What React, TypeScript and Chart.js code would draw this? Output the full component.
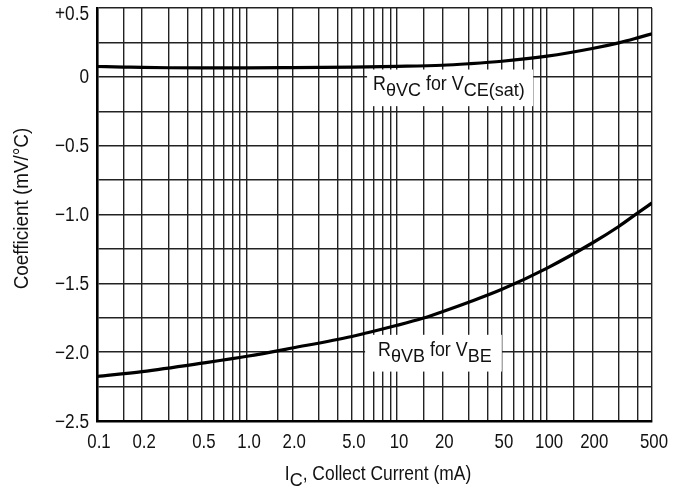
import React, { useEffect, useRef } from 'react';
import { Chart, registerables } from 'chart.js';

Chart.register(...registerables);

// ---- data ----
const vceCurrent = [0.1, 0.15, 0.2, 0.3, 0.5, 0.7, 1, 2, 5, 10, 20, 30, 50, 100, 200, 300, 400, 500];
const vceSatCoeff = [0.075, 0.071, 0.068, 0.066, 0.065, 0.065, 0.065, 0.067, 0.071, 0.076, 0.084, 0.095, 0.113, 0.15, 0.206, 0.247, 0.283, 0.313];

const vbeCurrent = [0.1, 0.2, 0.5, 1, 2, 5, 10, 15, 20, 30, 50, 100, 200, 300, 400, 500];
const vbeCoeff = [-2.177, -2.141, -2.08, -2.03, -1.97, -1.886, -1.805, -1.752, -1.706, -1.637, -1.543, -1.389, -1.207, -1.087, -0.99, -0.916];

const xGridValues = [0.1, 0.15, 0.2, 0.3, 0.4, 0.5, 0.6, 0.7, 0.8, 0.9, 1, 1.6, 2, 3, 4, 5, 6, 7, 8, 9, 10, 15, 20, 30, 40, 50, 60, 70, 80, 90, 100, 150, 200, 300, 400, 500];
const xLabelValues = [0.1, 0.2, 0.5, 1, 2, 5, 10, 20, 50, 100, 200, 500];
const xLabelTexts = ['0.1', '0.2', '0.5', '1.0', '2.0', '5.0', '10', '20', '50', '100', '200', '500'];

const yLabelValues = [0.5, 0, -0.5, -1, -1.5, -2, -2.5];
const yLabelTexts = ['+0.5', '0', '\u22120.5', '\u22121.0', '\u22121.5', '\u22122.0', '\u22122.5'];

const yTitle = 'Coefficient (mV/\u00B0C)';

const FONT = "'Liberation Sans', Arial, sans-serif";
const INK = '#111';
const GRID = '#222';

type Part = [string, boolean]; // [text, isSubscript]

const annotations = [
  {
    box: [6.31, 80.7, 0.053, -0.213], // xMin, xMax, yMax, yMin (data units)
    textDx: 6, textDy: 20,
    parts: [['R', false], ['\u03B8VC', true], [' for V', false], ['CE(sat)', true]] as Part[],
  },
  {
    box: [6.12, 49.9, -1.874, -2.141],
    textDx: 13, textDy: 21.5,
    parts: [['R', false], ['\u03B8VB', true], [' for V', false], ['BE', true]] as Part[],
  },
];

const xTitleParts: Part[] = [['I', false], ['C', true], [', Collect Current (mA)', false]];

// draw condensed text (horizontal squeeze sx)
function squeezed(ctx: CanvasRenderingContext2D, text: string, x: number, y: number, size: number, sx: number, align: CanvasTextAlign, baseline: CanvasTextBaseline, rot = 0) {
  ctx.save();
  ctx.translate(x, y);
  if (rot) ctx.rotate(rot);
  ctx.scale(sx, 1);
  ctx.font = `${size}px ${FONT}`;
  ctx.textAlign = align;
  ctx.textBaseline = baseline;
  ctx.fillText(text, 0, 0);
  ctx.restore();
}

function partWidth(ctx: CanvasRenderingContext2D, t: string, sub: boolean, mainSx: number) {
  ctx.font = sub ? `18px ${FONT}` : `21px ${FONT}`;
  return ctx.measureText(t).width * (sub ? 1 : mainSx);
}

function drawParts(ctx: CanvasRenderingContext2D, parts: Part[], x: number, baseline: number, mainSx: number) {
  let cx = x;
  for (const [t, sub] of parts) {
    if (sub) squeezed(ctx, t, cx, baseline + 6, 18, 1, 'left', 'alphabetic');
    else squeezed(ctx, t, cx, baseline, 21, mainSx, 'left', 'alphabetic');
    cx += partWidth(ctx, t, sub, mainSx);
  }
}

const labelPlugin = {
  id: 'labels',
  afterDraw(chart: any) {
    const { ctx, chartArea, scales } = chart;
    const xs = scales.x;
    const ys = scales.y;
    ctx.save();
    // annotations
    for (const a of annotations) {
      const l = xs.getPixelForValue(a.box[0]);
      const r = xs.getPixelForValue(a.box[1]);
      const t = ys.getPixelForValue(a.box[2]);
      const b = ys.getPixelForValue(a.box[3]);
      ctx.fillStyle = '#fff';
      ctx.fillRect(l, t, r - l, b - t);
      ctx.fillStyle = INK;
      drawParts(ctx, a.parts, l + a.textDx, t + a.textDy, 0.85);
    }
    ctx.fillStyle = INK;
    // x tick labels
    xLabelValues.forEach((v, i) => {
      const px = xs.getPixelForValue(v) + 2;
      squeezed(ctx, xLabelTexts[i], px, chartArea.bottom + 27, 21, 0.8, 'center', 'alphabetic');
    });
    // y tick labels
    yLabelValues.forEach((v, i) => {
      const py = Math.max(ys.getPixelForValue(v) + 1, chartArea.top + 6);
      squeezed(ctx, yLabelTexts[i], chartArea.left - 8, py, 20, 0.86, 'right', 'middle');
    });
    // y title
    squeezed(ctx, yTitle, 22, (chartArea.top + chartArea.bottom) / 2 - 6, 21, 0.9, 'center', 'middle', -Math.PI / 2);
    // x title with subscript
    let w = 0;
    for (const [t, sub] of xTitleParts) w += partWidth(ctx, t, sub, 0.83);
    const cx = (chartArea.left + chartArea.right) / 2 + 3.5;
    drawParts(ctx, xTitleParts, cx - w / 2, chartArea.bottom + 59, 0.83);
    ctx.restore();
  },
};

export default function App() {
  const ref = useRef<HTMLCanvasElement>(null);
  useEffect(() => {
    if (!ref.current) return;
    const chart = new Chart(ref.current, {
      type: 'line',
      data: {
        datasets: [
          {
            label: 'R\u03B8VC for VCE(sat)',
            data: vceCurrent.map((x, i) => ({ x, y: vceSatCoeff[i] })),
            borderColor: '#000',
            borderWidth: 3.2,
            pointRadius: 0,
            cubicInterpolationMode: 'monotone',
          },
          {
            label: 'R\u03B8VB for VBE',
            data: vbeCurrent.map((x, i) => ({ x, y: vbeCoeff[i] })),
            borderColor: '#000',
            borderWidth: 3.2,
            pointRadius: 0,
            cubicInterpolationMode: 'monotone',
          },
        ],
      },
      options: {
        responsive: false,
        animation: false,
        layout: { padding: { top: 8, right: 29, left: 0, bottom: 0 } },
        plugins: { legend: { display: false }, tooltip: { enabled: false } },
        scales: {
          x: {
            type: 'logarithmic',
            min: 0.1,
            max: 500,
            afterBuildTicks: (s: any) => {
              s.ticks = xGridValues.map((v) => ({ value: v }));
            },
            afterFit: (s: any) => {
              s.height = 72;
            },
            ticks: { display: false, autoSkip: false },
            grid: { color: GRID, lineWidth: 1.4, drawTicks: false },
            border: { color: '#000', width: 2.6 },
          },
          y: {
            min: -2.5,
            max: 0.5,
            afterFit: (s: any) => {
              s.width = 97;
            },
            ticks: { display: false, stepSize: 0.25 },
            grid: { color: GRID, lineWidth: 1.4, drawTicks: false },
            border: { color: '#000', width: 2.6 },
          },
        },
      },
      plugins: [labelPlugin],
    } as any);
    return () => chart.destroy();
  }, []);
  return (
    <div style={{ position: 'fixed', left: 0, top: 0, width: 681, height: 493, background: '#fff' }}>
      <canvas ref={ref} width={681} height={493} />
    </div>
  );
}
